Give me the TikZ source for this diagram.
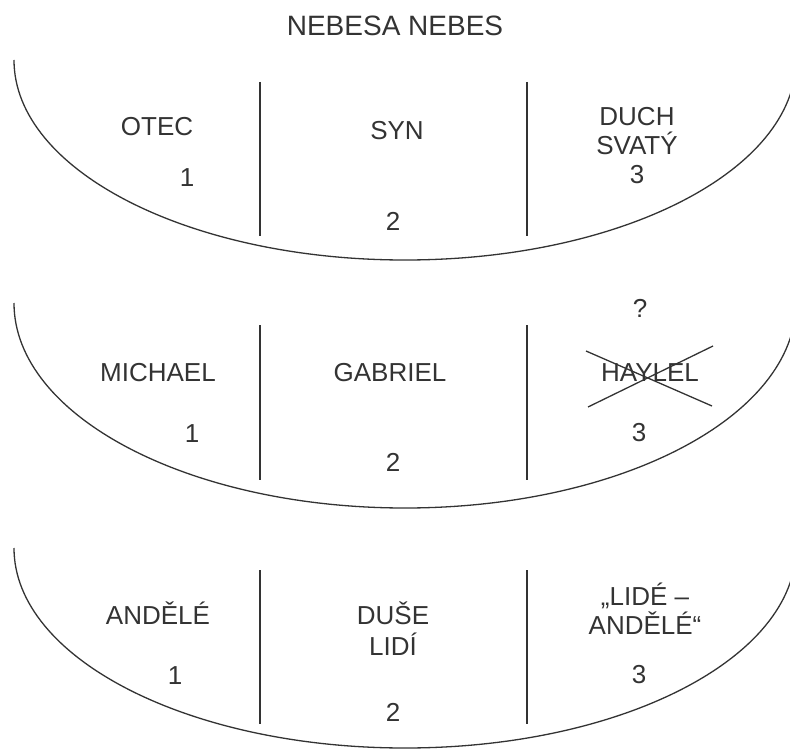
\documentclass[tikz,border=0pt]{standalone}
\usepackage{fontspec}
\setmainfont{Liberation Sans}
\def\bowl(#1:#2){\draw (14,#1) arc[start angle=180, end angle=0, x radius=391, y radius=#2];}

\begin{document}
\begin{tikzpicture}[x=1pt, y=-1pt, line width=1.3pt, color=black!80,
  font=\fontsize{26}{29}\selectfont]
		%%%%% START %%%%%
		\useasboundingbox (0,0) rectangle (790,749);
		\clip (0,0) rectangle (790,749);

		\node[anchor=base, font=\fontsize{28}{32}\selectfont] (nebesa) at (395,36) {NEBESA NEBES};

		% trojice
		\bowl(60:200)
		\draw (260,82) -- (260,236);
		\draw (527,82) -- (527,236);
		\node[anchor=base] (otec) at (157,136) {OTEC};
		\node[anchor=base] (otecnum) at (187,186) {1};
		\node[anchor=base] (syn) at (397,140) {SYN};
		\node[anchor=base] (synnum) at (393,230) {2};
		\node[align=center, inner sep=0pt] (duch) at (637,146) {DUCH\\SVATÝ\\3};

		% archandele
		\bowl(303:205)
		\draw (260,325) -- (260,480);
		\draw (527,325) -- (527,480);
		\node[anchor=base] (michael) at (158,381) {MICHAEL};
		\node[anchor=base] (michaelnum) at (192,442) {1};
		\node[anchor=base] (gabriel) at (390,381) {GABRIEL};
		\node[anchor=base] (gabrielnum) at (393,471) {2};
		\node[anchor=base] (otaznik) at (640,317) {?};
		\node[anchor=base] (haylel) at (650,381) {HAYLEL};
		\node[anchor=base] (haylelnum) at (639,441) {3};
		\draw (586,351) -- (712,406);
		\draw (588,407) -- (713,346);

		% lide
		\bowl(548:200)
		\draw (260,570) -- (260,724);
		\draw (527,570) -- (527,724);
		\node[anchor=base] (andele) at (158,624) {ANDĚLÉ};
		\node[anchor=base] (andelenum) at (175,684) {1};
		\node[align=center, inner sep=0pt, font=\fontsize{26}{31}\selectfont] (duse) at (393,629) {DUŠE\\LIDÍ};
		\node[anchor=base] (dusenum) at (393,721) {2};
		\node[align=center, inner sep=0pt] (lide) at (645,609) {„LIDÉ –\\ANDĚLÉ“};
		\node[anchor=base] (lidenum) at (639,683) {3};
		%%%%% END %%%%%
\end{tikzpicture}
\end{document}
